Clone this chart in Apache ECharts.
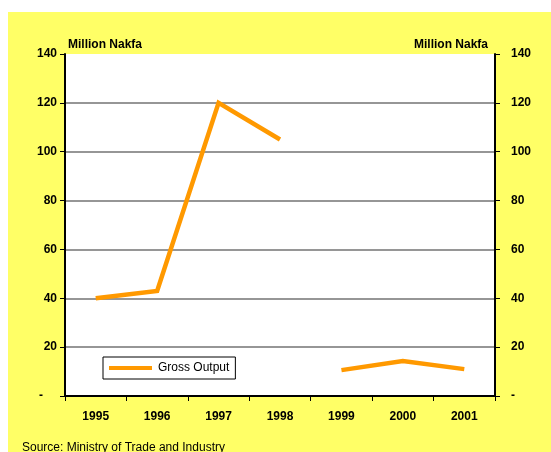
<!DOCTYPE html>
<html>
<head>
<meta charset="utf-8">
<script src="https://cdn.jsdelivr.net/npm/echarts@6/dist/echarts.min.js"></script>
<style>
  html, body { margin: 0; padding: 0; background: #ffffff; }
  #frame { position: absolute; left: 8px; top: 12px; width: 543px; height: 440px; background: #ffff66; }
  #chart { position: absolute; left: 0; top: 0; width: 551px; height: 452px; }
</style>
</head>
<body>
<div id="frame"></div>
<div id="chart"></div>
<script>
// Gross output, million Nakfa
const years = ['1995', '1996', '1997', '1998', '1999', '2000', '2001'];
// the 1995-1998 run and the 1999-2001 run are plotted as separate segments
const grossOutputEarly = [40, 43, 120, 105, '-', '-', '-'];
const grossOutputLate = ['-', '-', '-', '-', 10.6, 14.3, 11];
const yTicks = { min: 0, max: 140, step: 20 };
const unitLabel = 'Million Nakfa';
const sourceNote = 'Source: Ministry of Trade and Industry';

const FONT = '"Liberation Sans", Arial, sans-serif';
const ORANGE = '#ff9900';

const chart = echarts.init(document.getElementById('chart'), null, { renderer: 'canvas' });

function valueAxis(side) {
  const left = side === 'left';
  return {
    type: 'value',
    position: side,
    min: yTicks.min,
    max: yTicks.max,
    interval: yTicks.step,
    name: unitLabel,
    nameLocation: 'end',
    nameGap: 3,
    nameTextStyle: {
      fontFamily: FONT, fontSize: 12, fontWeight: 'bold', color: '#000',
      align: left ? 'left' : 'right',
      padding: left ? [0, 0, 0, 3] : [0, 7, 0, 0]
    },
    axisLine: { show: true, lineStyle: { color: '#000', width: 2 } },
    axisTick: { show: true, length: 5, lineStyle: { color: '#000', width: 1 } },
    axisLabel: {
      margin: left ? 8 : 16,
      fontFamily: FONT, fontSize: 12, fontWeight: 'bold', color: '#000',
      formatter: v => v === 0 ? (left ? '{d|-}' : '-') : String(v),
      rich: { d: { fontFamily: FONT, fontSize: 12, fontWeight: 'bold', color: '#000', padding: [0, 14, 0, 0] } }
    },
    splitLine: left ? { show: true, showMinLine: false, showMaxLine: false, lineStyle: { color: '#969696', width: 2 } } : { show: false }
  };
}

chart.setOption({
  backgroundColor: 'transparent',
  animation: false,
  grid: {
    left: 65, right: 56, top: 54, bottom: 56,
    show: true, backgroundColor: '#ffffff', borderWidth: 0
  },
  xAxis: {
    type: 'category',
    data: years,
    boundaryGap: true,
    axisLine: { show: true, lineStyle: { color: '#000', width: 2 } },
    axisTick: { show: true, length: 5, alignWithLabel: false, lineStyle: { color: '#000', width: 1 } },
    axisLabel: { margin: 15, fontFamily: FONT, fontSize: 12, fontWeight: 'bold', color: '#000' },
    splitLine: { show: false }
  },
  yAxis: [valueAxis('left'), valueAxis('right')],
  legend: {
    show: true,
    data: ['Gross Output'],
    left: 103,
    top: 357,
    orient: 'horizontal',
    icon: 'rect',
    itemWidth: 43,
    itemHeight: 4,
    itemGap: 0,
    padding: [5, 6, 5, 6],
    backgroundColor: '#ffffff',
    borderColor: '#000000',
    borderWidth: 1,
    borderRadius: 0,
    textStyle: { fontFamily: FONT, fontSize: 12, color: '#000', padding: [0, 0, 0, 1] }
  },
  title: {
    text: sourceNote,
    left: 17,
    top: 437,
    textStyle: { fontFamily: FONT, fontSize: 12, fontWeight: 'normal', color: '#000' }
  },
  series: [
    {
      name: 'Gross Output',
      type: 'line',
      yAxisIndex: 0,
      data: grossOutputEarly,
      showSymbol: false,
      symbol: 'none',
      connectNulls: false,
      itemStyle: { color: ORANGE },
      lineStyle: { color: ORANGE, width: 4.5, join: 'miter' }
    },
    {
      name: 'Gross Output',
      type: 'line',
      yAxisIndex: 1,
      data: grossOutputLate,
      showSymbol: false,
      symbol: 'none',
      connectNulls: false,
      itemStyle: { color: ORANGE },
      lineStyle: { color: ORANGE, width: 4.5, join: 'miter' }
    }
  ]
});
</script>
</body>
</html>
